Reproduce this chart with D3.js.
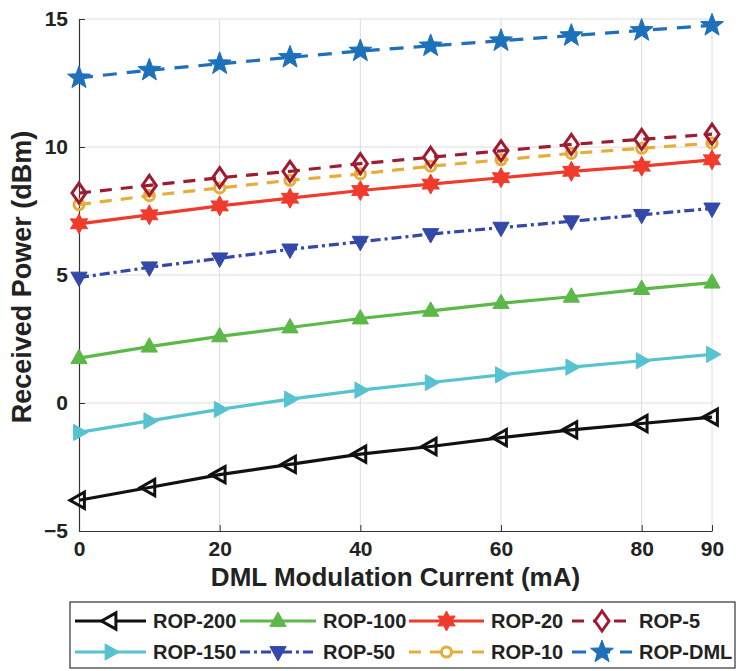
<!DOCTYPE html>
<html>
<head>
<meta charset="utf-8">
<script src="https://cdn.jsdelivr.net/npm/d3@7"></script>
<style>
  body { margin: 0; background: #fff; }
  text { font-family: "Liberation Sans", Arial, sans-serif; font-weight: bold; fill: #222; }
</style>
</head>
<body>
<div id="chart"></div>
<script>
// data
var current = [0, 10, 20, 30, 40, 50, 60, 70, 80, 90];
var rop200 = [-3.8, -3.3, -2.8, -2.4, -2.0, -1.7, -1.35, -1.05, -0.8, -0.55];
var rop150 = [-1.15, -0.7, -0.25, 0.15, 0.5, 0.8, 1.1, 1.4, 1.65, 1.9];
var rop100 = [1.75, 2.2, 2.6, 2.95, 3.3, 3.6, 3.9, 4.15, 4.45, 4.7];
var rop50 = [4.9, 5.3, 5.65, 6.0, 6.3, 6.6, 6.85, 7.1, 7.35, 7.6];
var rop20 = [7.0, 7.35, 7.7, 8.0, 8.3, 8.55, 8.8, 9.05, 9.25, 9.5];
var rop10 = [7.75, 8.1, 8.4, 8.7, 8.95, 9.25, 9.5, 9.75, 9.95, 10.15];
var rop5 = [8.2, 8.5, 8.8, 9.05, 9.35, 9.6, 9.85, 10.1, 10.3, 10.5];
var ropDML = [12.7, 13.0, 13.25, 13.5, 13.75, 13.95, 14.15, 14.35, 14.55, 14.75];
var xTicks = [0, 20, 40, 60, 80, 90];
var yTicks = [-5, 0, 5, 10, 15];

var svgWidth = 739, svgHeight = 671;
var margin = {top: 19, right: 27, bottom: 140, left: 79};
var width = svgWidth - margin.left - margin.right;
var height = svgHeight - margin.top - margin.bottom;

var svg = d3.select("#chart").append("svg")
  .attr("width", svgWidth)
  .attr("height", svgHeight);

var chartGroup = svg.append("g")
  .attr("transform", `translate(${margin.left}, ${margin.top})`);

var x = d3.scaleLinear().domain([0, 90]).range([0, width]);
var y = d3.scaleLinear().domain([-5, 15]).range([height, 0]);

// grid
chartGroup.selectAll(".vgrid").data(xTicks.filter(d => d > 0)).enter()
  .append("line")
  .attr("x1", d => x(d)).attr("x2", d => x(d))
  .attr("y1", 0).attr("y2", height)
  .attr("stroke", "#dcdcdc").attr("stroke-width", 1);
chartGroup.selectAll(".hgrid").data(yTicks.filter(d => d > -5)).enter()
  .append("line")
  .attr("x1", 0).attr("x2", width)
  .attr("y1", d => y(d)).attr("y2", d => y(d))
  .attr("stroke", "#dcdcdc").attr("stroke-width", 1);

// axes
var bottomAxis = d3.axisBottom(x).tickValues(xTicks).tickSizeInner(-6).tickSizeOuter(0).tickPadding(10);
var leftAxis = d3.axisLeft(y).tickValues(yTicks).tickSizeInner(-6).tickSizeOuter(0).tickPadding(11);

var gx = chartGroup.append("g")
  .attr("transform", `translate(0, ${height})`)
  .call(bottomAxis);
var gy = chartGroup.append("g").call(leftAxis);
[gx, gy].forEach(function(g) {
  g.select(".domain").attr("stroke", "#333").attr("stroke-width", 1.2);
  g.selectAll(".tick line").attr("stroke", "#333");
  g.selectAll(".tick text").style("font-size", "21px").attr("fill", "#222");
});

// marker shapes
function triPath(dir, r) {
  var pts;
  if (dir === "up") pts = [[0, -r], [r * 0.9, r * 0.6], [-r * 0.9, r * 0.6]];
  if (dir === "down") pts = [[0, r], [r * 0.9, -r * 0.6], [-r * 0.9, -r * 0.6]];
  if (dir === "left") pts = [[-r, 0], [r * 0.6, -r * 0.9], [r * 0.6, r * 0.9]];
  if (dir === "right") pts = [[r, 0], [-r * 0.6, -r * 0.9], [-r * 0.6, r * 0.9]];
  return "M" + pts.map(p => p.join(",")).join("L") + "Z";
}
function starPath(n, R, r) {
  var pts = [];
  for (var i = 0; i < n * 2; i++) {
    var a = -Math.PI / 2 + i * Math.PI / n;
    var rr = i % 2 === 0 ? R : r;
    pts.push([rr * Math.cos(a), rr * Math.sin(a)]);
  }
  return "M" + pts.map(p => p.join(",")).join("L") + "Z";
}
var markers = {
  left: {d: triPath("left", 9), fill: false},
  up: {d: triPath("up", 9), fill: true},
  right: {d: triPath("right", 9), fill: true},
  down: {d: triPath("down", 9), fill: true},
  hex: {d: starPath(6, 10, 5.5), fill: true},
  diamond: {d: "M0,-10L7,0L0,10L-7,0Z", fill: false},
  circle: {d: d3.symbol(d3.symbolCircle, 80)(), fill: false},
  star: {d: starPath(5, 12, 5), fill: true}
};

var series = [
  {name: "ROP-200", values: rop200, color: "#111111", dash: null, marker: "left"},
  {name: "ROP-150", values: rop150, color: "#57c3d0", dash: null, marker: "right"},
  {name: "ROP-100", values: rop100, color: "#5cb848", dash: null, marker: "up"},
  {name: "ROP-50", values: rop50, color: "#3348a8", dash: "10,4,3,4", marker: "down"},
  {name: "ROP-20", values: rop20, color: "#ef3a2c", dash: null, marker: "hex"},
  {name: "ROP-10", values: rop10, color: "#e6ad3a", dash: "12,9", marker: "circle"},
  {name: "ROP-5", values: rop5, color: "#9e1b32", dash: "12,9", marker: "diamond"},
  {name: "ROP-DML", values: ropDML, color: "#1f70ba", dash: "14,10", marker: "star"}
];

var line = d3.line().x(d => x(d[0])).y(d => y(d[1]));

series.forEach(function(s) {
  var pts = current.map((c, i) => [c, s.values[i]]);
  chartGroup.append("path")
    .datum(pts)
    .attr("d", line)
    .attr("fill", "none")
    .attr("stroke", s.color)
    .attr("stroke-width", 3.2)
    .attr("stroke-dasharray", s.dash);
  var m = markers[s.marker];
  chartGroup.selectAll(null).data(pts).enter()
    .append("path")
    .attr("d", m.d)
    .attr("transform", d => `translate(${x(d[0])}, ${y(d[1])})`)
    .attr("fill", m.fill ? s.color : "none")
    .attr("stroke", s.color)
    .attr("stroke-width", m.fill ? 1 : 3);
});

// axis labels
chartGroup.append("text")
  .attr("transform", `translate(${-57}, ${height / 2 + 2}) rotate(-90)`)
  .attr("text-anchor", "middle")
  .attr("dy", "0.35em")
  .style("font-size", "27px")
  .text("Received Power (dBm)");

chartGroup.append("text")
  .attr("x", width / 2)
  .attr("y", height + 55)
  .attr("text-anchor", "middle")
  .style("font-size", "26px")
  .text("DML Modulation Current (mA)");

// legend
var legend = svg.append("g");
legend.append("rect")
  .attr("x", 70).attr("y", 602)
  .attr("width", 665).attr("height", 66)
  .attr("fill", "#fff").attr("stroke", "#333").attr("stroke-width", 1.2);

var legendOrder = ["ROP-200", "ROP-100", "ROP-20", "ROP-5", "ROP-150", "ROP-50", "ROP-10", "ROP-DML"];
var colX = [75, 240, 409, 572];
var sampleW = [73, 78, 77, 62];
legendOrder.forEach(function(name, i) {
  var s = series.find(d => d.name === name);
  var col = i % 4, row = Math.floor(i / 4);
  var lx = colX[col], ly = 621 + row * 31;
  var w = sampleW[col] - 2;
  var g = legend.append("g");
  g.append("line")
    .attr("x1", lx).attr("x2", lx + w)
    .attr("y1", ly).attr("y2", ly)
    .attr("stroke", s.color).attr("stroke-width", 3.2)
    .attr("stroke-dasharray", s.dash);
  var m = markers[s.marker];
  g.append("path")
    .attr("d", m.d)
    .attr("transform", `translate(${lx + w / 2}, ${ly})`)
    .attr("fill", m.fill ? s.color : "#fff")
    .attr("stroke", s.color)
    .attr("stroke-width", m.fill ? 1 : 3);
  g.append("text")
    .attr("x", lx + sampleW[col] + 5)
    .attr("y", ly + 7)
    .style("font-size", "20px")
    .text(name);
});
</script>
</body>
</html>
